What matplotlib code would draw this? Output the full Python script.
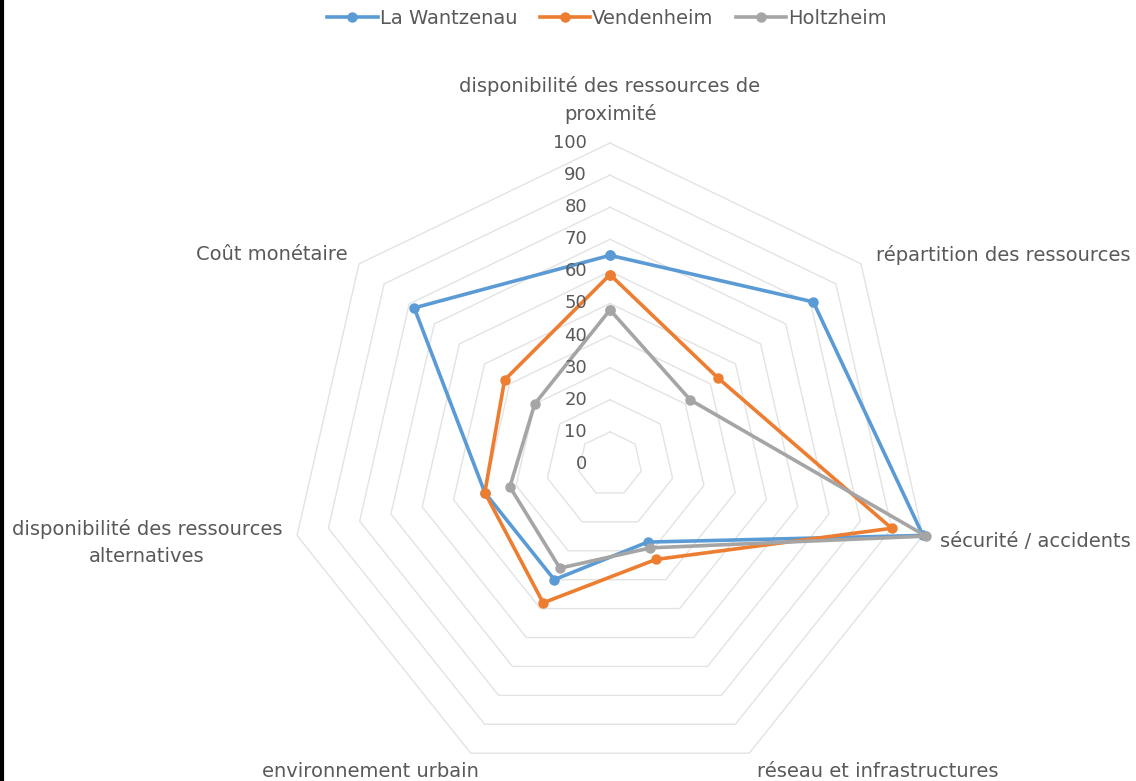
import numpy as np
import matplotlib
matplotlib.use("Agg")
import matplotlib.pyplot as plt
from matplotlib.lines import Line2D

plt.rcParams['font.family'] = ['DejaVu Sans']

categories = ["disponibilité des ressources de\nproximité",
              "répartition des ressources",
              "sécurité / accidents",
              "réseau et infrastructures",
              "environnement urbain",
              "disponibilité des ressources\nalternatives",
              "Coût monétaire"]
series_names = ["La Wantzenau", "Vendenheim", "Holtzheim"]
wantzenau = [65, 81, 100, 27, 40, 40, 78]
vendenheim = [59, 43, 90, 33, 48, 40, 42]
holtzheim = [48, 32, 101, 29, 36, 32, 30]
tick_values = [0, 10, 20, 30, 40, 50, 60, 70, 80, 90, 100]

colors = ["#5B9BD5", "#ED7D31", "#A5A5A5"]
text_color = "#595959"
grid_color = "#E3E3E3"
FS = 14
FS_TICK = 13

W, H = 1136, 781
fig = plt.figure(figsize=(W / 100, H / 100), dpi=100)
fig.patch.set_facecolor("white")

cx, cy, R = 610, 464, 321
ax = fig.add_axes([(cx - R) / W, (H - cy - R) / H, 2 * R / W, 2 * R / H], projection="polar")
ax.set_theta_zero_location("N")
ax.set_theta_direction(-1)
ax.set_ylim(0, 100)
ax.axis("off")

n = len(categories)
angles = np.linspace(0, 2 * np.pi, n, endpoint=False)
closed = np.concatenate([angles, angles[:1]])

# polygon gridlines
for v in tick_values[1:]:
    ax.plot(closed, [v] * (n + 1), color=grid_color, lw=1.0, zorder=1, clip_on=False)

# series
for name, vals, c in zip(series_names, [wantzenau, vendenheim, holtzheim], colors):
    ax.plot(closed, list(vals) + [vals[0]], color=c, lw=2.6, marker="o", ms=6.5,
            label=name, zorder=3, clip_on=False)

# tick labels along top axis
for v in tick_values:
    ax.annotate(str(v), xy=(0, v), xytext=(-23, 0), textcoords="offset pixels",
                ha="right", va="center", fontsize=FS_TICK, color=text_color)

# category labels
label_specs = [
    ((0, 19), "center", "bottom"),
    ((15, 9), "left", "center"),
    ((17, -6), "left", "center"),
    ((128, -18), "center", "center"),
    ((-100, -18), "center", "center"),
    ((-15, -7), "right", "center"),
    ((-11, 9), "right", "center"),
]
for ang, lab, (off, ha, va) in zip(angles, categories, label_specs):
    ax.annotate(lab, xy=(ang, 100), xytext=off, textcoords="offset pixels",
                ha=ha, va=va, multialignment="center", fontsize=FS,
                color=text_color, linespacing=1.5, annotation_clip=False)

# legend
handles = [Line2D([0], [0], color=c, lw=2.6, marker="o", ms=6.5) for c in colors]
fig.legend(handles, series_names, loc="center", bbox_to_anchor=(607 / W, 1 - 18 / H),
           ncol=3, frameon=False, fontsize=FS, handlelength=2.6, columnspacing=1.15,
           handletextpad=0.1, labelcolor=text_color)

# left border line
fig.add_artist(Line2D([2 / W, 2 / W], [0, 1], color="black", lw=3, transform=fig.transFigure))

fig.savefig("out.png", dpi=100, facecolor="white")
